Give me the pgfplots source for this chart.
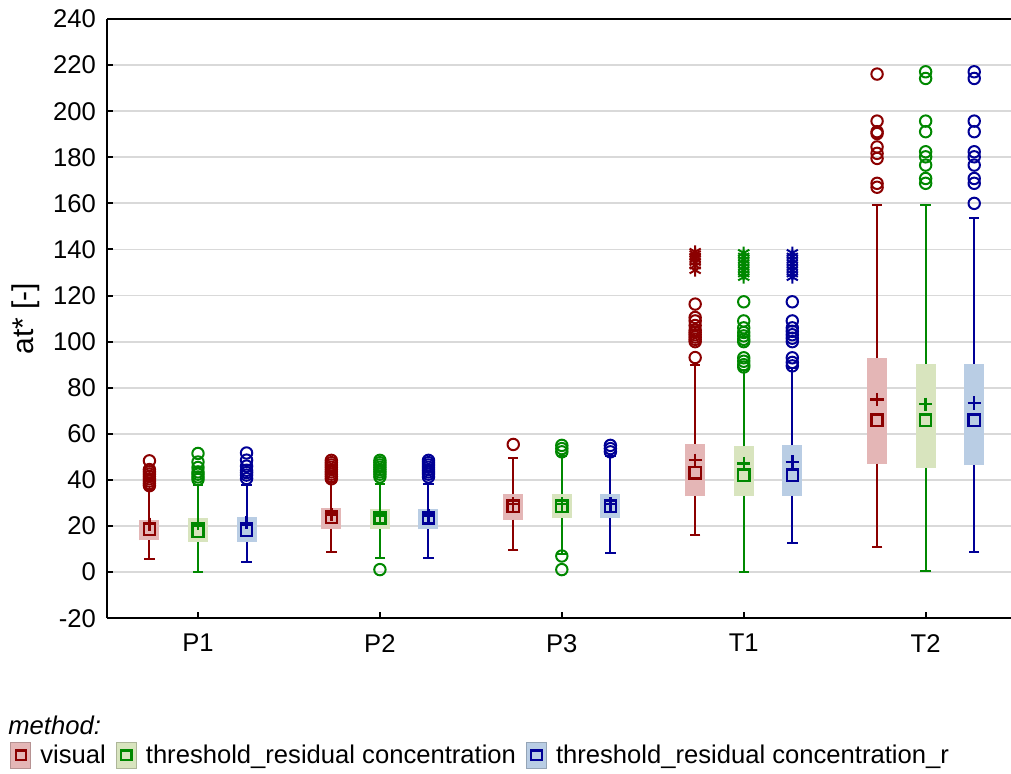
\documentclass[border=0pt]{standalone}
\usepackage{fontspec}
\setmainfont{Liberation Sans}
\usepackage{pgfplots}
\usepackage{pgfplotstable}
\pgfplotsset{compat=1.18}

\definecolor{redline}{RGB}{139,0,0}
\definecolor{greenline}{RGB}{0,136,0}
\definecolor{blueline}{RGB}{0,0,150}
\definecolor{redfill}{RGB}{228,182,182}
\definecolor{greenfill}{RGB}{216,228,190}
\definecolor{bluefill}{RGB}{185,205,228}

\newcommand{\lblfont}{\fontsize{12.8}{15}\selectfont}

% box statistics per method: position, lower whisker, Q1, median, mean, Q3, upper whisker
\pgfplotstableread{
pos   lw   q1   med  avg  q3   uw
0.733 5.9  13.8 18.6 20.8 22.8 36.0
1.733 8.8  18.9 23.8 25.0 27.9 38.9
2.733 9.8  22.8 28.6 29.6 33.8 49.7
3.733 16.0 32.9 43.1 48.6 55.8 89.8
4.733 10.9 47.1 65.9 74.9 93.0 159.2
}\visual
\pgfplotstableread{
pos   lw   q1   med  avg  q3   uw
1     0.0  13.1 17.8 21.2 23.7 38.0
2     6.3  18.6 23.5 24.5 27.6 38.1
3     8.0  23.3 28.6 29.6 33.8 50.3
4     0.0  33.1 42.1 47.1 54.6 87.7
5     0.4  45.2 65.9 72.9 90.5 159.2
}\thres
\pgfplotstableread{
pos   lw   q1   med  avg  q3   uw
1.267 4.4  13.1 18.2 21.4 24.0 38.0
2.267 6.3  18.6 23.5 24.5 27.6 38.1
3.267 8.1  23.3 28.6 29.6 33.8 50.3
4.267 12.7 33.1 42.1 47.8 55.0 88.4
5.267 8.8  46.4 65.9 73.4 90.5 153.5
}\thresr

\pgfplotsset{
  boxes/.style={forget plot, draw=none, mark=none,
    error bars/.cd, y dir=plus, y explicit, error mark=none,
    error bar style={draw=#1, line width=10pt}},
  upwhisk/.style={forget plot, draw=none, mark=none,
    error bars/.cd, y dir=plus, y explicit, error mark=-,
    error mark options={rotate=90, draw=#1, mark size=2.6pt, line width=1pt},
    error bar style={draw=#1, line width=1pt}},
  lowwhisk/.style={forget plot, draw=none, mark=none,
    error bars/.cd, y dir=minus, y explicit, error mark=-,
    error mark options={rotate=90, draw=#1, mark size=2.6pt, line width=1pt},
    error bar style={draw=#1, line width=1pt}},
  outl/.style={forget plot, only marks, color=#1, mark=o, mark size=2.85pt, mark options={line width=1pt}},
  ext/.style={forget plot, only marks, color=#1, mark=asterisk, mark size=3.2pt, mark options={line width=1pt}},
  med/.style={forget plot, only marks, color=#1, mark=square, mark size=2.8pt, mark options={line width=1.2pt}},
  avg/.style={forget plot, only marks, color=#1, mark=+, mark size=3.3pt, mark options={line width=1.2pt}},
  legpatch/.style 2 args={legend image code/.code={
    \draw[fill=#2, draw=#2!80!black, line width=0.5pt] (0pt,-6.5pt) rectangle (10pt,6.5pt);
    \draw[#1, line width=1.1pt] (2.4pt,-2.4pt) rectangle (7.6pt,2.4pt);}},
}

\begin{document}
\begin{tikzpicture}
\begin{axis}[
    name=ax,
    scale only axis,
    width=454.6pt, height=299.5pt,
    xmin=0.5, xmax=5.5,
    ymin=-20, ymax=240,
    xtick={1,2,3,4,5},
    xticklabels={P1,P2,P3,T1,T2},
    ytick={-20,0,...,240},
    axis x line*=box,
    axis y line*=left,
    tick pos=left,
    tick align=inside,
    major tick length=3pt,
    every tick/.style={black, line width=1pt},
    axis line style={black, line width=1.2pt},
    ymajorgrids,
    major grid style={line width=0.9pt, color=black!15},
    /pgf/number format/assume math mode=true,
    yticklabel style={font=\lblfont, xshift=-2pt},
    xticklabel style={font=\lblfont, yshift=-4.5pt},
    ylabel={at* [-]},
    ylabel style={font=\fontsize{15}{18}\selectfont},
    legend columns=-1,
    legend cell align=left,
    legend style={at={(axis description cs:-0.1067,-0.2287)}, anchor=west,
      draw=none, fill=none, inner sep=0pt, font=\lblfont,
      nodes={inner sep=0pt},
      /tikz/every odd column/.append style={column sep=4.5pt},
      /tikz/every even column/.append style={column sep=5pt}},
]
% ---- boxes (Q1 to Q3)
\addplot[boxes=redfill] table[x=pos, y=q1, y error expr=\thisrow{q3}-\thisrow{q1}] {\visual};
\addplot[boxes=greenfill] table[x=pos, y=q1, y error expr=\thisrow{q3}-\thisrow{q1}] {\thres};
\addplot[boxes=bluefill] table[x=pos, y=q1, y error expr=\thisrow{q3}-\thisrow{q1}] {\thresr};
% ---- whiskers
\addplot[upwhisk=redline] table[x=pos, y=q3, y error expr=\thisrow{uw}-\thisrow{q3}] {\visual};
\addplot[lowwhisk=redline] table[x=pos, y=q1, y error expr=\thisrow{q1}-\thisrow{lw}] {\visual};
\addplot[upwhisk=greenline] table[x=pos, y=q3, y error expr=\thisrow{uw}-\thisrow{q3}] {\thres};
\addplot[lowwhisk=greenline] table[x=pos, y=q1, y error expr=\thisrow{q1}-\thisrow{lw}] {\thres};
\addplot[upwhisk=blueline] table[x=pos, y=q3, y error expr=\thisrow{uw}-\thisrow{q3}] {\thresr};
\addplot[lowwhisk=blueline] table[x=pos, y=q1, y error expr=\thisrow{q1}-\thisrow{lw}] {\thresr};
% ---- medians (squares) and means (+)
\addplot[med=redline] table[x=pos, y=med] {\visual};
\addplot[med=greenline] table[x=pos, y=med] {\thres};
\addplot[med=blueline] table[x=pos, y=med] {\thresr};
\addplot[avg=redline] table[x=pos, y=avg] {\visual};
\addplot[avg=greenline] table[x=pos, y=avg] {\thres};
\addplot[avg=blueline] table[x=pos, y=avg] {\thresr};

% ---- outliers
\addplot[outl=redline] coordinates {
  (0.733,37.5) (0.733,38.5) (0.733,39.5) (0.733,40.5) (0.733,41.5) (0.733,42.5) (0.733,43.5) (0.733,44.5) (0.733,48.3)
  (1.733,40.5) (1.733,41.5) (1.733,42.5) (1.733,43.5) (1.733,44.5) (1.733,45.5) (1.733,46.5) (1.733,47.5) (1.733,48.5)
  (2.733,55.4)
  (3.733,93.1) (3.733,100) (3.733,101) (3.733,102) (3.733,103) (3.733,104) (3.733,105) (3.733,107) (3.733,109) (3.733,110.5) (3.733,116.3)
  (4.733,167) (4.733,168.7) (4.733,179.5) (4.733,181.7) (4.733,184.5) (4.733,190.3) (4.733,191.1) (4.733,195.7) (4.733,216.1)};
\addplot[outl=greenline] coordinates {
  (1,40.2) (1,41.3) (1,42.5) (1,43.5) (1,45.4) (1,47.8) (1,51.5)
  (2,1.1) (2,41.3) (2,42.5) (2,43.5) (2,44.5) (2,45.5) (2,46.5) (2,47.5) (2,48.5)
  (3,1.1) (3,7.0) (3,52.2) (3,53.6) (3,55.0)
  (4,89) (4,90) (4,91.5) (4,93) (4,100) (4,101) (4,102.5) (4,104) (4,106) (4,109) (4,117.3)
  (5,168.7) (5,170.8) (5,176.6) (5,180.2) (5,182.4) (5,191.1) (5,195.7) (5,214.2) (5,217.1)};
\addplot[outl=blueline] coordinates {
  (1.267,40.6) (1.267,42.1) (1.267,43.2) (1.267,44.2) (1.267,46.0) (1.267,48.6) (1.267,51.7)
  (2.267,41.3) (2.267,42.5) (2.267,43.5) (2.267,44.5) (2.267,45.5) (2.267,46.5) (2.267,47.5) (2.267,48.5)
  (3.267,52.2) (3.267,53.6) (3.267,55.0)
  (4.267,89.5) (4.267,91) (4.267,93) (4.267,100) (4.267,101.5) (4.267,103) (4.267,104.5) (4.267,106) (4.267,109) (4.267,117.3)
  (5.267,160.0) (5.267,168.7) (5.267,170.8) (5.267,176.6) (5.267,180.2) (5.267,182.4) (5.267,191.1) (5.267,195.7) (5.267,214.2) (5.267,217.1)};

% ---- extremes (T1)
\addplot[ext=redline] coordinates {(3.733,131) (3.733,133) (3.733,134.5) (3.733,136) (3.733,137) (3.733,138) (3.733,139)};
\addplot[ext=greenline] coordinates {(4,128) (4,129.5) (4,131) (4,132.5) (4,134) (4,135.5) (4,137) (4,138.5)};
\addplot[ext=blueline] coordinates {(4.267,128) (4.267,129.5) (4.267,131) (4.267,132.5) (4.267,134) (4.267,135.5) (4.267,137) (4.267,138.5)};

% ---- legend
\addlegendimage{legpatch={redline}{redfill}}
\addlegendentry{visual}
\addlegendimage{legpatch={greenline}{greenfill}}
\addlegendentry{threshold\_residual concentration}
\addlegendimage{legpatch={blueline}{bluefill}}
\addlegendentry{threshold\_residual concentration\_r}
\end{axis}
\node[anchor=base west, inner sep=0pt, font=\itshape\lblfont] at ([xshift=-49.5pt,yshift=-58pt]ax.south west) {method:};
\pgfresetboundingbox
\path ([xshift=-53.5pt,yshift=-77.5pt]ax.south west) rectangle ([xshift=-2.8pt,yshift=9.5pt]ax.north east);
\end{tikzpicture}
\end{document}
